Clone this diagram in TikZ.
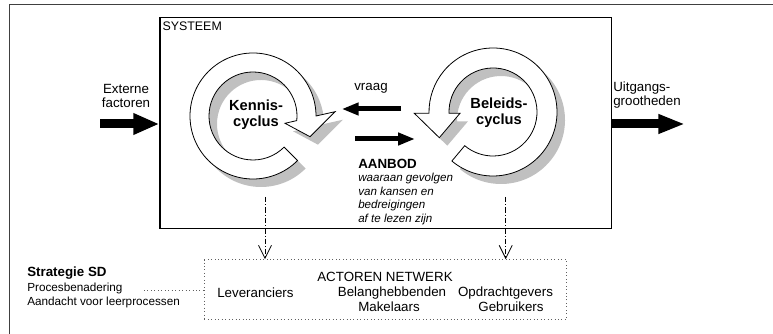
\documentclass[tikz,border=0pt]{standalone}
\usepackage{fontspec}
\setmainfont{Liberation Sans}
\usetikzlibrary{arrows.meta}
\definecolor{shade}{HTML}{C0C0C0}
\definecolor{framegray}{HTML}{404040}
\definecolor{dotgray}{HTML}{606060}
\begin{document}
\begin{tikzpicture}[x=0.75pt,y=0.75pt,
  txt/.style={inner sep=0pt, font=\fontsize{10}{10.5}\selectfont},
  cyctxt/.style={inner sep=0pt, align=center, font=\fontsize{11}{11.6}\selectfont\bfseries},
  ringline/.style={draw=black, line width=0.6pt, fill=white, line join=miter},
  shadowfill/.style={fill=shade, draw=none},
  bigarrow/.style={line width=6.75pt, -{Triangle[length=19.5pt,width=15pt]}},
  midarrow/.style={line width=3.75pt, -{Triangle[length=12.75pt,width=9pt]}},
  dasharrow/.style={line width=0.6pt, dash pattern=on 4pt off 1.5pt on 0.8pt off 1.5pt,
     -{Straight Barb[length=9.75pt,width=9.75pt]}},
  kennisring/.style={insert path={(-45:47.25pt) arc[start angle=-45, end angle=-360, radius=47.25pt]
     -- (82,4.3) -- (57,-20.7) -- (32,-7.3) -- (-366:33pt) arc[start angle=-366, end angle=-45, radius=33pt] -- cycle}},
  beleidsring/.style={insert path={(230:48pt) arc[start angle=230, end angle=541.2, radius=48pt]
     -- (-78.7,-1.3) -- (-53.7,-25.7) -- (-33,-1.3) -- (541.7:33pt) arc[start angle=541.7, end angle=230, radius=33pt] -- cycle}}
]
\useasboundingbox (0,0) rectangle (773,334);

% outer frame
\coordinate (fa) at (9.5,-3);
\coordinate (fb) at (9.5,330);
\coordinate (fc) at (776,330);
\draw[framegray, line width=0.7pt] (fa) -- (fb) -- (fc);

% system box
\node[draw=black, line width=0.9pt, anchor=south west, inner sep=0pt,
      minimum width=338.55pt, minimum height=158.25pt] (sys) at (159.3,104.7) {};
\node[txt, anchor=west, font=\fontsize{9.3}{10}\selectfont] (systeem) at (162.3,307.7) {SYSTEEM};

% Kennis ring
\begin{scope}[shift={(261,210)}]
  \path[shadowfill, kennisring];
\end{scope}
\begin{scope}[shift={(253,218)}]
  \path[ringline, kennisring];
\end{scope}
\node[cyctxt] (kennis) at (256,219.5) {Kennis-\\cyclus};

% Beleids ring
\begin{scope}[shift={(501,214)}]
  \path[shadowfill, beleidsring];
\end{scope}
\begin{scope}[shift={(493,222)}]
  \path[ringline, beleidsring];
\end{scope}
\node[cyctxt] (beleids) at (499,221.5) {Beleids-\\cyclus};

% external arrows
\node[txt, align=center] (ext) at (126,237.7) {Externe\\factoren};
\coordinate (extstart) at (100,210);
\draw[bigarrow] (extstart) -- (sys.west |- extstart);

\node[txt, align=left, anchor=west] (uit) at (613,239) {Uitgangs-\\grootheden};
\coordinate (uitend) at (685,210);
\draw[-{Triangle[length=20pt,width=13.5pt]}, line width=6.75pt] (sys.east |- uitend) -- (uitend);

% vraag / aanbod
\node[txt] (vraag) at (371,245.5) {vraag};
\coordinate (vs) at (401,225);
\coordinate (ve) at (341.7,225);
\draw[midarrow] (vs) -- (ve);
\coordinate (as) at (355,195);
\coordinate (ae) at (415,195);
\draw[midarrow] (as) -- (ae);

\node[txt, anchor=west, font=\fontsize{10}{11}\selectfont\bfseries] (aanbod) at (358,170.5) {AANBOD};
\node[inner sep=0pt, anchor=west, align=left, font=\fontsize{8.7}{10.3}\selectfont\itshape] (aanbodtxt) at (358,135)
  {waaraan gevolgen\\van kansen en\\bedreigingen\\af te lezen zijn};

% actoren netwerk
\node[draw=dotgray, dotted, line width=0.6pt, anchor=south west, inner sep=0pt,
      minimum width=271.5pt, minimum height=45pt] (act) at (204,14) {};
\node[txt] (actoren) at (385,57) {ACTOREN NETWERK};
\node[txt, anchor=west] (lev) at (217,41) {Leveranciers};
\node[txt] (bel) at (392,41) {Belanghebbenden};
\node[txt] (mak) at (389,27) {Makelaars};
\node[txt] (opd) at (505.5,41) {Opdrachtgevers};
\node[txt] (geb) at (511,27) {Gebruikers};

% dashed arrows
\coordinate (d1) at (265,137);
\coordinate (d2) at (505.7,137);
\draw[dasharrow] (d1) -- (d1 |- act.north);
\draw[dasharrow] (d2) -- (d2 |- act.north);

% strategie
\node[txt, anchor=west, font=\fontsize{10}{11}\selectfont\bfseries] (strat) at (27,61) {Strategie SD};
\node[txt, anchor=west, font=\fontsize{8.8}{10}\selectfont] (proc) at (27,46) {Procesbenadering};
\node[txt, anchor=west, font=\fontsize{8.8}{10}\selectfont] (aand) at (27,32) {Aandacht voor leerprocessen};
\coordinate (ds) at (144,44);
\draw[dotgray, dotted, line width=0.6pt] (ds) -- (act.west |- ds);
\end{tikzpicture}
\end{document}
